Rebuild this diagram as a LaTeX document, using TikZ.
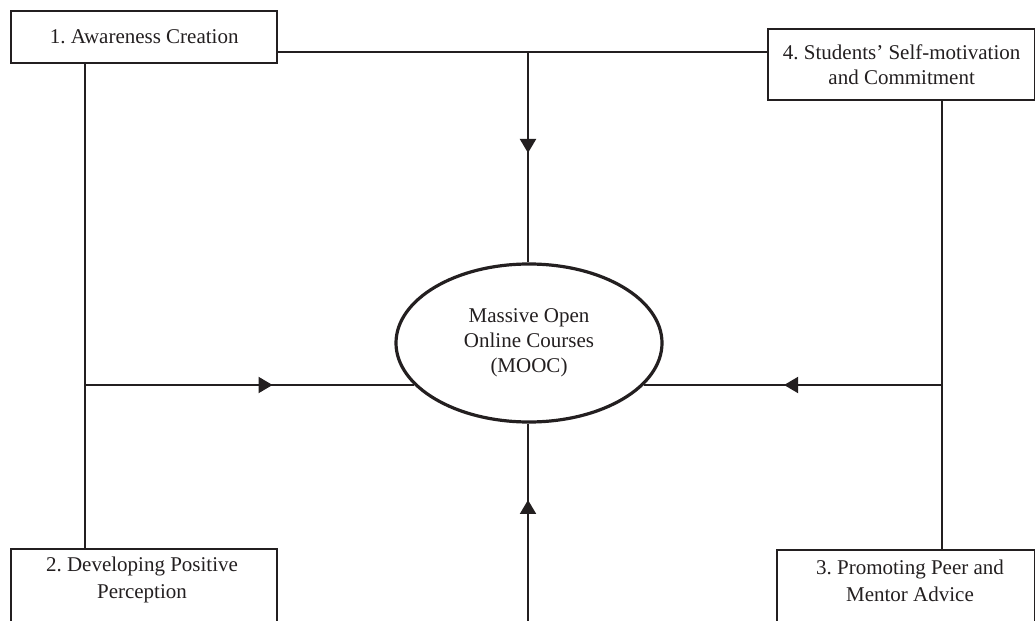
\documentclass[tikz,border=0pt]{standalone}
\usepackage{fontspec}
\setmainfont{Liberation Serif}
\usetikzlibrary{positioning, calc, arrows.meta, shapes, decorations.markings}
\definecolor{ink}{RGB}{35,31,32}
\frenchspacing

\begin{document}
\begin{tikzpicture}[x=1bp, y=-1bp,
    every node/.style={font=\fontsize{21bp}{25bp}\selectfont, text=ink, align=center},
    box/.style={draw=ink, line width=2.3bp, inner sep=0pt, anchor=north west},
    lowtext/.style={font=\fontsize{21bp}{27bp}\selectfont},
    link/.style={draw=ink, line width=2bp},
    midtip/.style={postaction={decorate}, decoration={markings,
        mark=at position #1 with {\arrow{Triangle[length=14bp, width=16bp]}}}}]
    \useasboundingbox (0,0) rectangle (1035,621);
    \clip (0,0) rectangle (1035,621);
    \node[box, minimum width=266bp, minimum height=52bp] (b1) at (10,10) {1. Awareness Creation};
    \node[box, minimum width=267bp, minimum height=71bp] (b4) at (767,28) {4. Students' Self-motivation\\and Commitment};
    \node[box, minimum width=266bp, minimum height=120bp] (b2) at (10,548) {};
    \node[box, minimum width=258bp, minimum height=120bp] (b3) at (776,549) {};
    \node[lowtext] (t2) at (142,580) {2. Developing Positive\\Perception};
    \node[lowtext] (t3) at (910,581) {3. Promoting Peer and\\Mentor Advice};
    \node[draw=ink, line width=3.2bp, ellipse, minimum width=266bp, minimum height=158bp, inner sep=0pt] (mooc) at (529,343) {Massive Open\\Online Courses\\(MOOC)};
    \coordinate (top) at (528,52);
    \coordinate (lft) at (85,385);
    \coordinate (rgt) at (942,385);
    \coordinate (bot) at (528,630);
    \draw[link] (b1.east |- top) -- (b4.west |- top);
    \draw[link, midtip=0.48] (top) -- (top |- mooc.north);
    \draw[link] (lft |- b1.south) -- (lft |- b2.north);
    \draw[link] (rgt |- b4.south) -- (rgt |- b3.north);
    \draw[link, midtip=0.57] (lft) -- (lft -| mooc.200.45);
    \draw[link, midtip=0.53] (rgt) -- (rgt -| mooc.-20.45);
    \draw[link, midtip=0.63] (bot) -- (bot |- mooc.south);
\end{tikzpicture}
\end{document}
